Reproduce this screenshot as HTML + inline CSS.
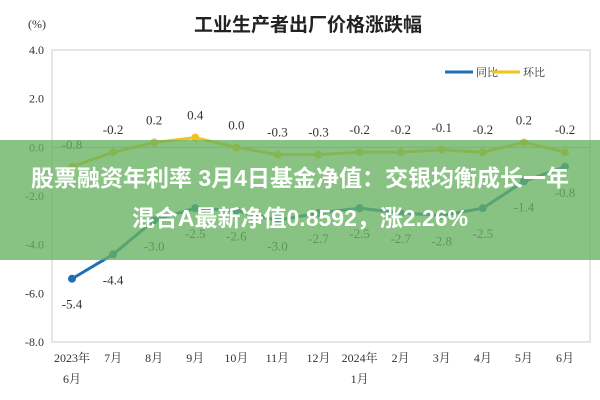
<!DOCTYPE html>
<html><head><meta charset="utf-8"><style>
body{margin:0;width:600px;height:400px;overflow:hidden;background:#fff;font-family:"Liberation Serif","Noto Serif CJK SC",serif}
#banner{position:absolute;left:-20px;top:140px;width:640px;height:120px;background:rgba(104,178,98,0.78);color:#fff;font-family:"Liberation Sans","Noto Sans CJK SC",sans-serif;font-weight:bold;font-size:23px;text-align:center;line-height:40px;padding-top:18px;box-sizing:border-box;white-space:nowrap}
</style></head><body>
<svg id="chart" width="600" height="400" style="position:absolute;left:0;top:0" font-family="'Liberation Serif','Noto Serif CJK SC',serif"></svg>
<div id="banner">股票融资年利率 3月4日基金净值：交银均衡成长一年<br>混合A最新净值0.8592，涨2.26%</div>
<script>
const categories=["2023年|6月","7月","8月","9月","10月","11月","12月","2024年|1月","2月","3月","4月","5月","6月"];
const yoyValues=[-5.4,-4.4,-3.0,-2.5,-2.6,-3.0,-2.7,-2.5,-2.7,-2.8,-2.5,-1.4,-0.8];
const momValues=[-0.8,-0.2,0.2,0.4,0.0,-0.3,-0.3,-0.2,-0.2,-0.1,-0.2,0.2,-0.2];
const yTicks=[4,2,0,-2,-4,-6,-8];
const svg=document.getElementById('chart');
const NS='http://www.w3.org/2000/svg';
const L=52,R=590,T=50,B=342,yMin=-8,yMax=4;
function y(v){return T+(yMax-v)/(yMax-yMin)*(B-T);}
function x(i){return 72+i*(565-72)/(categories.length-1);}
function mk(tag,attrs,txt){const e=document.createElementNS(NS,tag);for(const k in attrs)e.setAttribute(k,attrs[k]);if(txt!==undefined)e.textContent=txt;svg.appendChild(e);return e;}
let e;
e=mk('text',{x:308,y:31,'text-anchor':'middle','font-size':19,'font-weight':'bold',fill:'#222','font-family':"'Liberation Sans','Noto Sans CJK SC',sans-serif"},'工业生产者出厂价格涨跌幅');


e=mk('text',{x:28,y:28,'font-size':12,fill:'#333'},'(%)');


e=mk('rect',{x:L,y:T,width:R-L,height:B-T,fill:'none',stroke:'#ccc','stroke-width':1});


yTicks.forEach(v=>{
 const t=mk('text',{x:44,y:y(v)+4,'text-anchor':'end','font-size':12,fill:'#333'},v.toFixed(1));
 
 
});
const zl=mk('line',{x1:L,x2:R,y1:y(0),y2:y(0),stroke:'#bbb'});


categories.forEach((c,i)=>{
 const parts=c.split('|');
 parts.forEach((p,j)=>{
  const t=mk('text',{x:x(i),y:362+j*21,'text-anchor':'middle','font-size':12,fill:'#333'},p);
  
  
 });
});
function series(vals,color,name,dy){
 const pl=mk('polyline',{points:vals.map((v,i)=>x(i)+','+y(v)).join(' '),fill:'none',stroke:color,'stroke-width':3});
 
 
 vals.forEach((v,i)=>{
  const c=mk('circle',{cx:x(i),cy:y(v),r:4,fill:color});
  
  
  const t=mk('text',{x:x(i),y:y(v)+dy,'text-anchor':'middle','font-size':13,fill:'#333'},v.toFixed(1));
  
  
 });
}
series(yoyValues,'#1f6fb5','yoy',30);
series(momValues,'#f2c318','mom',-18);
e=mk('line',{x1:445,x2:473,y1:72,y2:72,stroke:'#1f6fb5','stroke-width':3});


e=mk('text',{x:476,y:76,'font-size':11,fill:'#333'},'同比');


e=mk('line',{x1:492,x2:520,y1:72,y2:72,stroke:'#f2c318','stroke-width':3});


e=mk('text',{x:523,y:76,'font-size':11,fill:'#333'},'环比');


</script>
</body></html>
